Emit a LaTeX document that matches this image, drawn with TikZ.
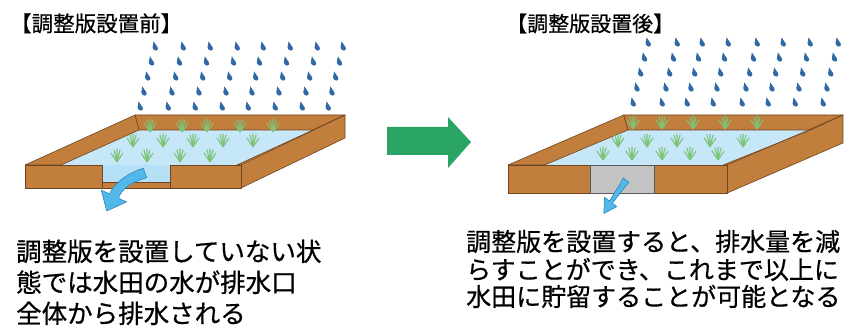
\documentclass[tikz,border=0pt]{standalone}
\usepackage{fontspec}
\newfontfamily\jp{Noto Sans CJK JP}[FakeBold=0.6]
\usetikzlibrary{arrows.meta}

\definecolor{wood}{HTML}{C27E3C}
\definecolor{woodline}{HTML}{6E4521}
\definecolor{water}{HTML}{C6E7F7}
\definecolor{rain}{HTML}{3169A6}
\definecolor{leaf}{HTML}{7CC47A}
\definecolor{flow}{HTML}{52B8EA}
\definecolor{flowline}{HTML}{2C88BC}
\definecolor{go}{HTML}{2AA566}
\definecolor{gate}{HTML}{C4C4C4}

\tikzset{
  woodface/.style={fill=wood, draw=woodline, line width=0.6pt, line join=round},
  title/.style={anchor=base west, inner sep=0pt, font=\jp\fontsize{21.5}{24}\selectfont},
  body/.style={anchor=base west, inner sep=0pt, font=\jp\fontsize{25.5}{30}\selectfont},
  drop/.pic={
    \begin{scope}[xslant=-0.25]
      \fill[rain] (0,1) circle[radius=2.6pt];
      \fill[rain] (-2.45,0.2) -- (0,-5.6) -- (2.45,0.2) -- cycle;
    \end{scope}},
  plant/.pic={
    \draw[leaf, line width=1.1pt, line cap=round]
      (0,0) -- (-6,-9) (0,0) -- (-3,-12) (0,0) -- (0,-13)
      (0,0) -- (3,-12) (0,0) -- (6,-9);},
}

% water, back wall, side walls of a field; origin at the front-left top corner
% #1 front face height, #2 back-left x, #3 back-right x
\newcommand\fieldback[3]{%
  \fill[water] (36,0) -- ({#2+4},-35) -- ({#3-32},-35) -- (212,0) -- cycle;
  \filldraw[woodface] (#2,-50) -- (#3,-50) -- ({#3-32},-35) -- ({#2+4},-35) -- cycle;
  \filldraw[woodface] (0,0) -- (#2,-50) -- ({#2+4},-35) -- (36,0) -- cycle;
  \filldraw[woodface] (212,0) -- ({#3-32},-35) -- (#3,-50) -- (#3,{-50+#1})
    -- (216,#1) -- (216,0) -- cycle;
  \draw[woodline, line width=0.5pt] (216,0) -- (#3,-50);
}

\begin{document}
\begin{tikzpicture}[x=1pt, y=-1pt]
  \useasboundingbox (0,0) rectangle (854,334);

  % ---------- titles ----------
  \node[title] (titleBefore) at (10,31.5) {【調整版設置前】};
  \node[title, font=\jp\fontsize{21}{24}\selectfont] (titleAfter) at (506,31.5) {【調整版設置後】};

  % ---------- rain ----------
  \foreach \t in {155,183,210,237,263,290,317,343}
    \foreach \k in {0,...,4}
      \pic at ({\t-3.75*\k},{47+15*\k}) {drop};
  \foreach \t in {648,677,702,728,757,783,810,838}
    \foreach \k in {0,...,4}
      \pic at ({\t-3.75*\k},{43+15*\k}) {drop};

  % ---------- field before: open outlet ----------
  \begin{scope}[shift={(25,165)}]
    \fieldback{23}{110}{320}
  \end{scope}
  \foreach \x/\y in {150/132,182/132,207/132,240/132,273/132,
                     133/147,163/147,193/147,223/147,253/147,
                     117/162,147/162,180/162,210/162}
    \pic at (\x,\y) {plant};
  \begin{scope}[shift={(25,165)}]
    \filldraw[woodface] (0,0) rectangle (77,23);
    \filldraw[woodface] (145,0) rectangle (216,23);
    \fill[water!85!flow] (77,-0.3) rectangle (145,17);
    \filldraw[woodface] (77,17) rectangle (145,23);
    \draw[woodline, line width=0.6pt] (77,0) -- (77,17) (145,0) -- (145,17);
  \end{scope}
  % outflow through the open gap
  \filldraw[fill=flow, draw=flowline, line width=0.6pt, line join=round]
    (143.3,168.3) .. controls (130,172) and (115,182) .. (109.5,193.8)
    -- (101.3,190.2) -- (106.7,211) -- (126.7,201.9) -- (118.5,198.3)
    .. controls (122,188) and (132,182) .. (146.7,177.7) -- cycle;

  % ---------- transition arrow ----------
  \fill[go] (387,127) -- (448,127) -- (448,117) -- (471,142)
    -- (448,168) -- (448,155) -- (387,155) -- cycle;

  % ---------- field after: gate installed ----------
  \begin{scope}[shift={(508,165)}, xscale=1.015]
    \fieldback{28}{114}{330}
  \end{scope}
  \foreach \x/\y in {633/129,662/129,693/129,725/129,757/129,
                     618/147,647/147,677/147,710/147,743/147,
                     603/160,632/160,662/160,690/160,718/160}
    \pic at (\x,\y) {plant};
  \begin{scope}[shift={(508,165)}, xscale=1.015]
    \filldraw[woodface] (0,0) rectangle (216,28);
    \filldraw[fill=gate, draw=gray!70!black, line width=0.5pt] (81,0) rectangle (144,28);
  \end{scope}
  % reduced outflow through the gate
  \filldraw[fill=flow, draw=flowline, line width=0.6pt, line join=round]
    (623.2,178) -- (629,182.4) -- (626.2,185.5) -- (612.3,203.2)
    -- (616.8,206.6) -- (603.8,213.6) -- (604.6,197.2) -- (609.5,201)
    -- (620.6,183) -- cycle;

  % ---------- captions ----------
  \node[body] (capBefore1) at (16,261) {調整版を設置していない状};
  \node[body] (capBefore2) at (16,292) {態では水田の水が排水口};
  \node[body] (capBefore3) at (16,323) {全体から排水される};
  \node[body, font=\jp\fontsize{25}{28}\selectfont] (capAfter1) at (466,251) {調整版を設置すると、排水量を減};
  \node[body, font=\jp\fontsize{25}{28}\selectfont] (capAfter2) at (466,279) {らすことができ、これまで以上に};
  \node[body, font=\jp\fontsize{25}{28}\selectfont] (capAfter3) at (466,306) {水田に貯留することが可能となる};
\end{tikzpicture}
\end{document}
